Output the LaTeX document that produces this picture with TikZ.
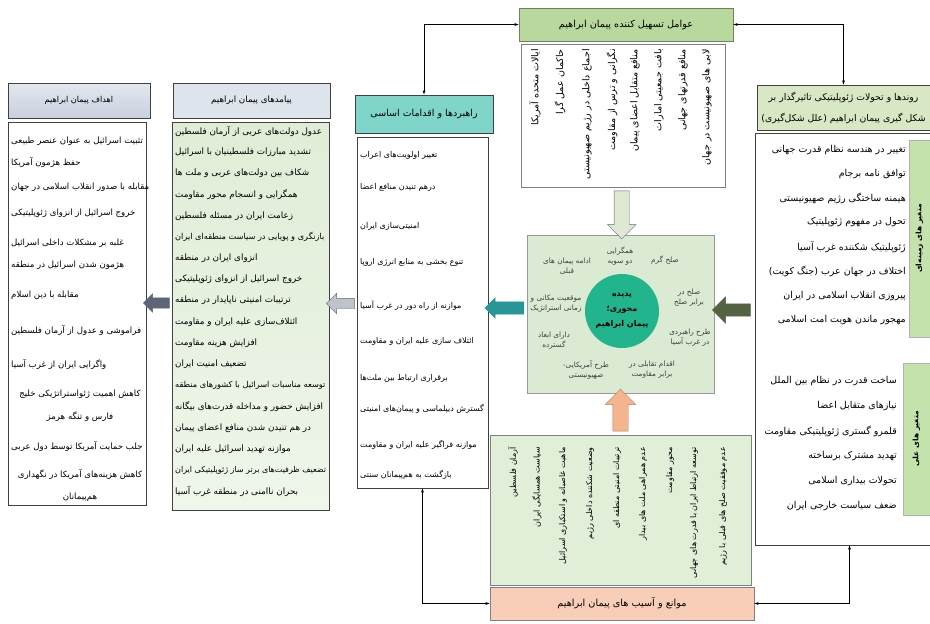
\documentclass[tikz,border=0pt]{standalone}
\usepackage{fontspec}
\usepackage{tikz}
\usetikzlibrary{shapes.arrows}
\newfontfamily\persfont[Script=Arabic]{DejaVu Sans}
\TeXXeTstate=1
\def\rtl#1{{\persfont\beginR #1\endR}}
\definecolor{goalhd}{RGB}{200,208,222}
\definecolor{outhd}{RGB}{222,228,236}
\definecolor{outbd}{RGB}{224,237,214}
\definecolor{strathd}{RGB}{128,213,202}
\definecolor{facthd}{RGB}{184,216,158}
\definecolor{causehd}{RGB}{216,232,196}
\definecolor{labgreen}{RGB}{196,226,172}
\definecolor{ctrgreen}{RGB}{219,234,210}
\definecolor{coregreen}{RGB}{34,180,140}
\definecolor{obsbd}{RGB}{225,238,216}
\definecolor{obshd}{RGB}{249,206,184}
\definecolor{salmon}{RGB}{243,180,142}
\definecolor{tealarr}{RGB}{40,150,150}
\definecolor{olivearr}{RGB}{84,98,68}
\definecolor{slatearr}{RGB}{92,102,120}
\definecolor{greyarr}{RGB}{190,195,204}
\definecolor{palearr}{RGB}{222,232,210}

\begin{document}
\begin{tikzpicture}[x=1pt,y=-1pt,
	box/.style={draw=black!75, line width=0.7pt, inner sep=0},
	head/.style={box, font=\fontsize{9}{11}\selectfont, align=center},
	item/.style={inner sep=0, font=\fontsize{8.6}{10}\selectfont},
	citem/.style={inner sep=0, align=center, text=black!75, font=\fontsize{7.3}{10}\selectfont},
	vtext/.style={inner sep=0, rotate=90, anchor=east, font=\fontsize{9.5}{11}\selectfont},
	fat/.style={single arrow, draw=black!60, inner sep=5pt, single arrow head extend=4pt}]
	\useasboundingbox (0,0) rectangle (930,624);

	\node[head, top color=goalhd!50, bottom color=goalhd, font=\fontsize{8.2}{10}\selectfont, minimum width=142pt, minimum height=35pt] (goalhead) at (79,100.5) {\rtl{اهداف پیمان ابراهیم}};
	\node[box, fill=white, minimum width=138pt, minimum height=383pt] (goalbody) at (77,313.5) {};
	\foreach \yy/\tx [count=\i] in {141/تثبیت اسرائیل به عنوان عنصر طبیعی, 163/حفظ هژمون آمریکا, 187/مقابله با صدور انقلاب اسلامی در جهان, 213/خروج اسرائیل از انزوای ژئوپلیتیکی, 243/غلبه بر مشکلات داخلی اسرائیل, 265/هژمون شدن اسرائیل در منطقه, 295/مقابله با دین اسلام, 331/فراموشی و عدول از آرمان فلسطین, 365/واگرایی ایران از غرب آسیا, 447/جلب حمایت آمریکا توسط دول عربی}
		\node[item, anchor=west] (goal\i) at (11,\yy) {\rtl{\tx}};
	\node[item, align=center, font=\fontsize{8.6}{23}\selectfont] (goalk) at (80,406) {\rtl{کاهش اهمیت ژئواستراتژیکی خلیج}\\\rtl{فارس و تنگه هرمز}};
	\node[item, align=center, font=\fontsize{8.6}{22}\selectfont] (goalh) at (80,486) {\rtl{کاهش هزینه‌های آمریکا در نگهداری}\\\rtl{هم‌پیمانان}};

	\node[head, fill=outhd, font=\fontsize{8.7}{10}\selectfont, minimum width=157pt, minimum height=35pt] (outhead) at (251.5,100.5) {\rtl{پیامدهای پیمان ابراهیم}};
	\node[box, top color=outbd, bottom color=outbd!50, minimum width=157pt, minimum height=388pt] (outbody) at (250.5,316) {};
	\foreach \fs/\tx [count=\i] in {8.8/عدول دولت‌های عربی از آرمان فلسطین, 8.8/تشدید مبارزات فلسطینیان با اسرائیل, 8.8/شکاف بین دولت‌های عربی و ملت ها, 8.8/همگرایی و انسجام محور مقاومت, 8.8/زعامت ایران در مسئله فلسطین, 8.2/بازنگری و پویایی در سیاست منطقه‌ای ایران, 8.8/انزوای ایران در منطقه, 8.8/خروج اسرائیل از انزوای ژئوپلیتیکی, 8.8/ترتیبات امنیتی ناپایدار در منطقه, 8.8/ائتلاف‌سازی علیه ایران و مقاومت, 8.8/افزایش هزینه مقاومت, 8.8/تضعیف امنیت ایران, 8.2/توسعه مناسبات اسرائیل با کشورهای منطقه, 8.8/افزایش حضور و مداخله قدرت‌های بیگانه, 8.8/در هم تنیدن شدن منافع اعضای پیمان, 8.8/موازنه تهدید اسرائیل علیه ایران, 8/تضعیف ظرفیت‌های برتر ساز ژئوپلیتیکی ایران, 8.8/بحران ناامنی در منطقه غرب آسیا}
		\node[item, anchor=west, font=\fontsize{\fs}{11}\selectfont] (out\i) at (175,{131+(\i-1)*21.2}) {\rtl{\tx}};

	\node[head, fill=strathd, font=\fontsize{9.5}{11}\selectfont, minimum width=138pt, minimum height=38pt] (strathead) at (424,114) {\rtl{راهبردها و اقدامات اساسی}};
	\node[box, fill=white, minimum width=131pt, minimum height=351pt] (stratbody) at (422.5,312.5) {};
	\foreach \yy/\tx [count=\i] in {155/تغییر اولویت‌های اعراب, 187/درهم تنیدن منافع اعضا, 226/امنیتی‌سازی ایران, 262/تنوع بخشی به منابع انرژی اروپا, 306/موازنه از راه دور در غرب آسیا, 341/ائتلاف سازی علیه ایران و مقاومت, 378/برقراری ارتباط بین ملت‌ها, 409/گسترش دیپلماسی و پیمان‌های امنیتی, 445/موازنه فراگیر علیه ایران و مقاومت, 475/بازگشت به هم‌پیمانان سنتی}
		\node[item, anchor=west, font=\fontsize{8}{10}\selectfont] (strat\i) at (360,\yy) {\rtl{\tx}};

	\node[head, fill=facthd, draw=facthd!60!black, font=\fontsize{9.7}{11}\selectfont, minimum width=214pt, minimum height=33pt] (facthead) at (626,24.5) {\rtl{عوامل تسهیل کننده پیمان ابراهیم}};
	\node[box, draw=black!50, fill=white, minimum width=204pt, minimum height=143pt] (factbody) at (623,115.5) {};
	\foreach \xx/\tx [count=\i] in {535/ایالات متحده آمریکا, 560/حاکمان عمل گرا, 587/اجماع داخلی در رژیم صهیونیستی, 612/نگرانی و ترس از مقاومت, 635/منافع متقابل اعضای پیمان, 659/بافت جمعیتی امارات, 683/منافع قدرتهای جهانی, 707/لابی های صهیونیست در جهان}
		\node[vtext] (fact\i) at (\xx,49) {\rtl{\tx}};

	\node[box, draw=black!40, fill=ctrgreen, minimum width=187pt, minimum height=158pt] (ctrbox) at (620.5,314) {};
	\node[circle, fill=coregreen, minimum size=74pt, inner sep=0, align=center, font=\bfseries\fontsize{8}{15}\selectfont] (core) at (622,311) {\rtl{پدیده}\\\rtl{محوری؛}\\\rtl{پیمان ابراهیم}};
	\node[citem] (c1) at (620,256) {\rtl{همگرایی}\\\rtl{دو سویه}};
	\node[citem] (c2) at (665,260) {\rtl{صلح گرم}};
	\node[citem] (c3) at (567,266) {\rtl{ادامه پیمان های}\\\rtl{قبلی}};
	\node[citem] (c4) at (689,298) {\rtl{صلح در}\\\rtl{برابر صلح}};
	\node[citem] (c5) at (556,304) {\rtl{موقعیت مکانی و}\\\rtl{زمانی استراتژیک}};
	\node[citem] (c6) at (690,338) {\rtl{طرح راهبردی}\\\rtl{در غرب آسیا}};
	\node[citem] (c7) at (554,341) {\rtl{دارای ابعاد}\\\rtl{گسترده}};
	\node[citem] (c8) at (586,370) {\rtl{طرح آمریکایی-}\\\rtl{صهیونیستی}};
	\node[citem] (c9) at (652,370) {\rtl{اقدام تقابلی در}\\\rtl{برابر مقاومت}};

	\node[head, fill=causehd, minimum width=173pt, minimum height=45pt, font=\fontsize{9.3}{21}\selectfont] (causehead) at (843.5,107.5) {\rtl{روندها و تحولات ژئوپلیتیکی تاثیرگذار بر}\\\rtl{شکل گیری پیمان ابراهیم (علل شکل‌گیری)}};
	\node[box, fill=white, minimum width=175pt, minimum height=412pt] (causebody) at (842.5,339) {};
	\node[draw=black!30, fill=labgreen, minimum width=21pt, minimum height=197pt, inner sep=0] (lab1) at (919.5,238.5) {};
	\node[rotate=90, inner sep=0, font=\bfseries\fontsize{7.5}{9}\selectfont] (lab1t) at (lab1) {\rtl{متغیر های زمینه‌ای}};
	\node[draw=black!30, fill=labgreen, minimum width=27pt, minimum height=152pt, inner sep=0] (lab2) at (916.5,439) {};
	\node[rotate=90, inner sep=0, font=\bfseries\fontsize{7.5}{9}\selectfont] (lab2t) at (lab2) {\rtl{متغیر های علی}};
	\foreach \yy/\tx [count=\i] in {150/تغییر در هندسه نظام قدرت جهانی, 174/توافق نامه برجام, 198/هیمنه ساختگی رژیم صهیونیستی, 222/تحول در مفهوم ژئوپلیتیک, 247/ژئوپلیتیک  شکننده غرب آسیا, 271/اختلاف در جهان عرب (جنگ کویت), 296/پیروزی انقلاب اسلامی در ایران, 320/مهجور ماندن هویت امت اسلامی}
		\node[item, anchor=east, font=\fontsize{9.5}{11}\selectfont] (ctx\i) at (906,\yy) {\rtl{\tx}};
	\foreach \yy/\tx [count=\i] in {381/ساخت قدرت در نظام بین الملل, 406/نیازهای متقابل اعضا, 431/قلمرو گستری ژئوپلیتیکی مقاومت, 456/تهدید مشترک برساخته, 481/تحولات بیداری اسلامی, 506/ضعف سیاست خارجی ایران}
		\node[item, anchor=east, font=\fontsize{9.5}{11}\selectfont] (cau\i) at (897,\yy) {\rtl{\tx}};

	\node[box, draw=black!50, fill=obsbd, minimum width=261pt, minimum height=150pt] (obsbody) at (620.5,510) {};
	\foreach \xx/\tx [count=\i] in {513/آرمان فلسطین, 537/سیاست همسایگی ایران, 563/ماهیت غاصبانه و استکباری اسرائیل, 590/وضعیت شکننده داخلی رژیم, 617/ترتیبات امنیتی منطقه ای, 643/عدم همراهی ملت های بیدار, 670/محور مقاومت, 694/توسعه ارتباط ایران با قدرت های جهانی, 723/عدم موفقیت صلح های قبلی با رژیم}
		\node[vtext, font=\fontsize{8}{10}\selectfont] (obs\i) at (\xx,447) {\rtl{\tx}};
	\node[head, draw=black!50, fill=obshd, font=\fontsize{9.7}{11}\selectfont, minimum width=264pt, minimum height=33pt] (obshead) at (622,603.5) {\rtl{موانع و آسیب های پیمان ابراهیم}};

	\path (factbody.south) -- (ctrbox.north) node[midway, fat, fill=palearr, shape border rotate=270, inner sep=7.5pt, single arrow head extend=6.5pt, minimum height=48pt] {};
	\path (obsbody.north) -- (ctrbox.south) node[midway, fat, fill=salmon, draw=salmon!70!black, shape border rotate=90, inner sep=7.5pt, single arrow head extend=7.5pt, minimum height=42pt] {};
	\path (causebody.west) -- (causebody.west -| ctrbox.east) node[midway, yshift=29pt, fat, fill=olivearr, draw=olivearr, shape border rotate=180, inner sep=6pt, single arrow head extend=7pt, minimum height=38pt] {};
	\path (ctrbox.west) -- (ctrbox.west -| stratbody.east) node[midway, yshift=6pt, fat, fill=tealarr, draw=tealarr, shape border rotate=180, inner sep=6pt, minimum height=39pt] {};
	\path (stratbody.west) -- (stratbody.west -| outbody.east) node[midway, yshift=9pt, fat, fill=greyarr, shape border rotate=180, single arrow head extend=5pt, minimum height=28pt] {};
	\path (outbody.west) -- (outbody.west -| goalbody.east) node[midway, yshift=13pt, fat, fill=slatearr, draw=slatearr, shape border rotate=180, minimum height=26pt] {};

	\draw[latex-latex] (strathead.north) |- (facthead.west);
	\draw[latex-latex] (causehead.north) |- (facthead.east);
	\draw[latex-latex] (stratbody.south) |- (obshead.west);
	\draw[latex-latex] ([xshift=7pt]causebody.south) |- (obshead.east);
\end{tikzpicture}
\end{document}
